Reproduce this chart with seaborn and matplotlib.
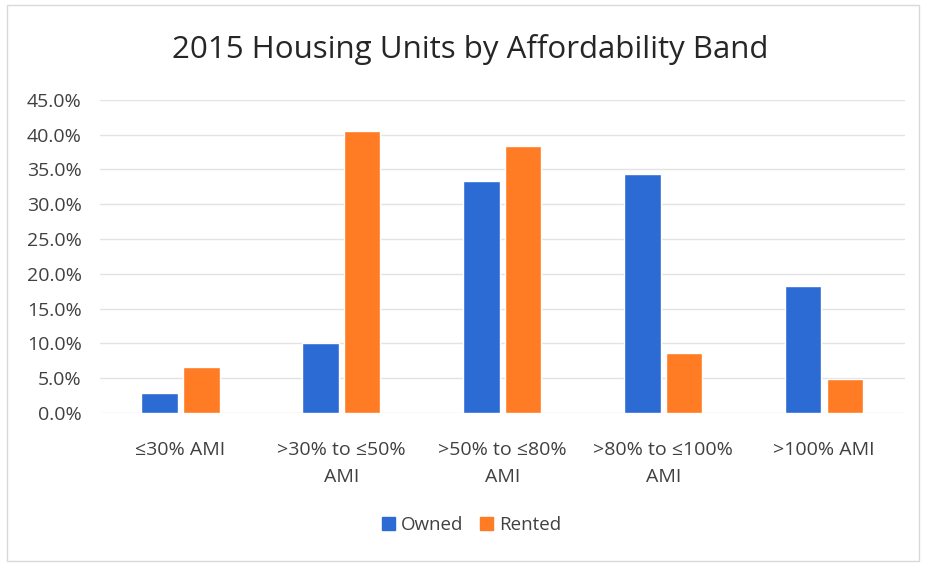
import matplotlib
matplotlib.use("Agg")
import matplotlib.pyplot as plt
import seaborn as sns
import pandas as pd
from matplotlib.ticker import FuncFormatter, MultipleLocator
from matplotlib.patches import Rectangle

categories = ["≤30% AMI", ">30% to ≤50%\nAMI", ">50% to ≤80%\nAMI", ">80% to ≤100%\nAMI", ">100% AMI"]
owned = [2.9, 10.1, 33.3, 34.3, 18.2]
rented = [6.6, 40.5, 38.4, 8.6, 4.9]
series = ["Owned", "Rented"]
colors = ["#2D6BD4", "#FF7B24"]

df = pd.DataFrame({
    "band": categories * 2,
    "value": owned + rented,
    "tenure": ["Owned"] * len(categories) + ["Rented"] * len(categories),
})

sns.set_theme(style="white")
plt.rcParams["font.family"] = ["Open Sans", "DejaVu Sans"]

fig = plt.figure(figsize=(9.25, 5.64), dpi=100)
ax = fig.add_axes([0.108, 0.268, 0.870, 0.555])

sns.barplot(data=df, x="band", y="value", hue="tenure", order=categories,
            hue_order=series, palette=colors, width=0.52, gap=0.13,
            saturation=1, ax=ax, legend=False)

ax.set_ylim(0, 45)
ax.yaxis.set_major_locator(MultipleLocator(5))
ax.yaxis.set_major_formatter(FuncFormatter(lambda v, p: f"{v:.1f}%"))
ax.grid(axis="y", color="#E3E3E3", linewidth=1.0)
ax.set_axisbelow(True)
for s in ax.spines.values():
    s.set_visible(False)
ax.set_xlabel("")
ax.set_ylabel("")
ax.tick_params(axis="both", length=0, labelsize=14, colors="#404040")
ax.tick_params(axis="y", pad=13)
ax.tick_params(axis="x", pad=20)
for lbl in ax.get_xticklabels():
    lbl.set_linespacing(1.7)

fig.text(0.508, 0.913, "2015 Housing Units by Affordability Band",
         ha="center", va="center", fontsize=22.5, color="#262626")

handles = [Rectangle((0, 0), 1, 1, color=c) for c in colors]
fig.legend(handles, series, loc="center", bbox_to_anchor=(0.51, 0.069), ncol=2,
           frameon=False, fontsize=13.5, handlelength=0.7, handleheight=0.7,
           handletextpad=0.3, columnspacing=0.9, labelcolor="#404040")

fig.patches.append(Rectangle((0.008, 0.006), 0.985, 0.985, transform=fig.transFigure,
                             fill=False, edgecolor="#D9D9D9", linewidth=1.0))

fig.savefig("out.png", dpi=100)
